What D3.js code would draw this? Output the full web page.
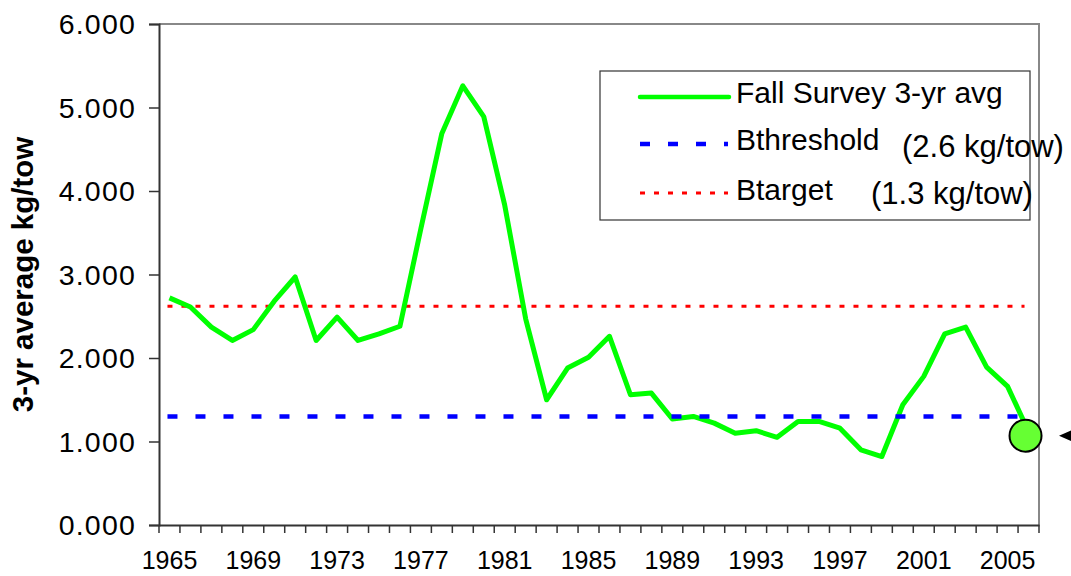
<!DOCTYPE html>
<html>
<head>
<meta charset="utf-8">
<script src="https://cdn.jsdelivr.net/npm/d3@7"></script>
<style>
  body { margin: 0; background: #fff; }
  text { font-family: "Liberation Sans", Arial, sans-serif; fill: #000; }
</style>
</head>
<body>
<script>
// fall survey 3-yr average, kg/tow
var years = [1965, 1966, 1967, 1968, 1969, 1970, 1971, 1972, 1973, 1974,
             1975, 1976, 1977, 1978, 1979, 1980, 1981, 1982, 1983, 1984,
             1985, 1986, 1987, 1988, 1989, 1990, 1991, 1992, 1993, 1994,
             1995, 1996, 1997, 1998, 1999, 2000, 2001, 2002, 2003, 2004,
             2005, 2006];
var avg3yr = [2.72, 2.61, 2.37, 2.21, 2.34, 2.68, 2.97, 2.21, 2.49, 2.21,
              2.29, 2.38, 3.55, 4.69, 5.26, 4.89, 3.83, 2.47, 1.50, 1.88,
              2.01, 2.26, 1.56, 1.58, 1.27, 1.30, 1.22, 1.10, 1.13, 1.05,
              1.24, 1.24, 1.16, 0.90, 0.82, 1.44, 1.78, 2.29, 2.37, 1.89,
              1.66, 1.12];
var labelYears = [1965, 1969, 1973, 1977, 1981, 1985, 1989, 1993, 1997, 2001, 2005];
var yTicks = [0, 1, 2, 3, 4, 5, 6];
var bTarget = 2.62;     // red dotted
var bThreshold = 1.30;  // blue dashed
var latestYear = 2006, latestValue = 1.07;

var W = 1071, H = 576;
var margin = {top: 24, right: 32, bottom: 51, left: 159};

var svg = d3.select("body").append("svg")
    .attr("width", W)
    .attr("height", H);

var x = d3.scaleBand()
    .domain(years)
    .range([margin.left, W - margin.right]);

var y = d3.scaleLinear()
    .domain([0, 6])
    .range([H - margin.bottom, margin.top]);

var cx = function(yr) { return x(yr) + x.bandwidth() / 2; };

// frame: grey top and right
svg.append("path")
    .attr("d", "M" + margin.left + "," + margin.top + "H" + (W - margin.right) + "V" + (H - margin.bottom))
    .attr("fill", "none")
    .attr("stroke", "#888")
    .attr("stroke-width", 2);

// y axis
var yAxis = svg.append("g")
    .attr("transform", "translate(" + margin.left + ",0)")
    .call(d3.axisLeft(y).tickValues(yTicks).tickFormat(d3.format(".3f")).tickSize(10).tickPadding(13));
yAxis.select(".domain").attr("stroke", "#333").attr("stroke-width", 2);
yAxis.selectAll(".tick line").attr("stroke", "#333").attr("stroke-width", 1.5);
yAxis.selectAll(".tick text")
    .attr("font-size", 28.5)
    .attr("font-family", "Liberation Sans, Arial, sans-serif")
    .attr("letter-spacing", 1.2)
    .attr("dy", "0.34em");

// x axis: labels in band centres, ticks on band edges
var xAxis = svg.append("g")
    .attr("transform", "translate(0," + (H - margin.bottom) + ")")
    .call(d3.axisBottom(x).tickValues(labelYears).tickSize(0).tickPadding(26));
xAxis.select(".domain").attr("stroke", "#333").attr("stroke-width", 2);
xAxis.selectAll(".tick text")
    .attr("font-size", 25)
    .attr("font-family", "Liberation Sans, Arial, sans-serif");

xAxis.selectAll(".edge")
    .data(years.concat(["end"]))
    .enter().append("line")
    .attr("class", "edge")
    .attr("x1", function(d) { return d === "end" ? x.range()[1] : x(d); })
    .attr("x2", function(d) { return d === "end" ? x.range()[1] : x(d); })
    .attr("y1", 0)
    .attr("y2", 8)
    .attr("stroke", "#333")
    .attr("stroke-width", 1.5);

// axis title
svg.append("text")
    .attr("transform", "translate(33," + ((margin.top + H - margin.bottom) / 2) + ") rotate(-90)")
    .attr("text-anchor", "middle")
    .attr("font-size", 29.5)
    .attr("font-weight", "bold")
    .text("3-yr average kg/tow");

// reference lines
var first = years[0], last = years[years.length - 1];

svg.append("line")
    .attr("x1", cx(first) - 2).attr("x2", cx(last) - 4)
    .attr("y1", y(bTarget)).attr("y2", y(bTarget))
    .attr("stroke", "#ff0000")
    .attr("stroke-width", 3)
    .attr("stroke-dasharray", "5,9");

svg.append("path")
    .datum(avg3yr)
    .attr("fill", "none")
    .attr("stroke", "#00ff00")
    .attr("stroke-width", 5)
    .attr("stroke-linejoin", "round")
    .attr("d", d3.line()
        .x(function(d, i) { return cx(years[i]); })
        .y(function(d) { return y(d); }));

svg.append("line")
    .attr("x1", cx(first) - 2).attr("x2", cx(last))
    .attr("y1", y(bThreshold)).attr("y2", y(bThreshold))
    .attr("stroke", "#0000ff")
    .attr("stroke-width", 4.5)
    .attr("stroke-dasharray", "10,18");

// latest point + marker arrow
svg.append("circle")
    .attr("cx", cx(latestYear) - 3)
    .attr("cy", y(latestValue))
    .attr("r", 16)
    .attr("fill", "#66ff33")
    .attr("stroke", "#000")
    .attr("stroke-width", 2);

var ay = y(latestValue);
svg.append("path")
    .attr("d", "M1059," + ay + "L1075," + (ay - 7) + "L1075," + (ay + 7) + "Z")
    .attr("fill", "#000");

// legend
var lg = svg.append("g");
lg.append("rect")
    .attr("x", 600).attr("y", 71)
    .attr("width", 430).attr("height", 149)
    .attr("fill", "#fff")
    .attr("stroke", "#333")
    .attr("stroke-width", 1.2);

lg.append("line")
    .attr("x1", 640).attr("x2", 729).attr("y1", 97).attr("y2", 97)
    .attr("stroke", "#00ff00").attr("stroke-width", 4.5)
    .attr("stroke-linecap", "round");
lg.append("line")
    .attr("x1", 640).attr("x2", 728).attr("y1", 144).attr("y2", 144)
    .attr("stroke", "#0000ff").attr("stroke-width", 4.5)
    .attr("stroke-dasharray", "10,18");
lg.append("line")
    .attr("x1", 640).attr("x2", 728).attr("y1", 193).attr("y2", 193)
    .attr("stroke", "#ff0000").attr("stroke-width", 3)
    .attr("stroke-dasharray", "5,9");

var legendText = [
  {t: "Fall Survey 3-yr avg", x: 736, y: 103, s: 30},
  {t: "Bthreshold", x: 736, y: 150, s: 30},
  {t: "(2.6 kg/tow)", x: 902, y: 157, s: 31},
  {t: "Btarget", x: 736, y: 200, s: 30},
  {t: "(1.3 kg/tow)", x: 871, y: 204, s: 31}
];
lg.selectAll("text.lbl")
    .data(legendText)
    .enter().append("text")
    .attr("class", "lbl")
    .attr("x", function(d) { return d.x; })
    .attr("y", function(d) { return d.y; })
    .attr("font-size", function(d) { return d.s; })
    .text(function(d) { return d.t; });
</script>
</body>
</html>
